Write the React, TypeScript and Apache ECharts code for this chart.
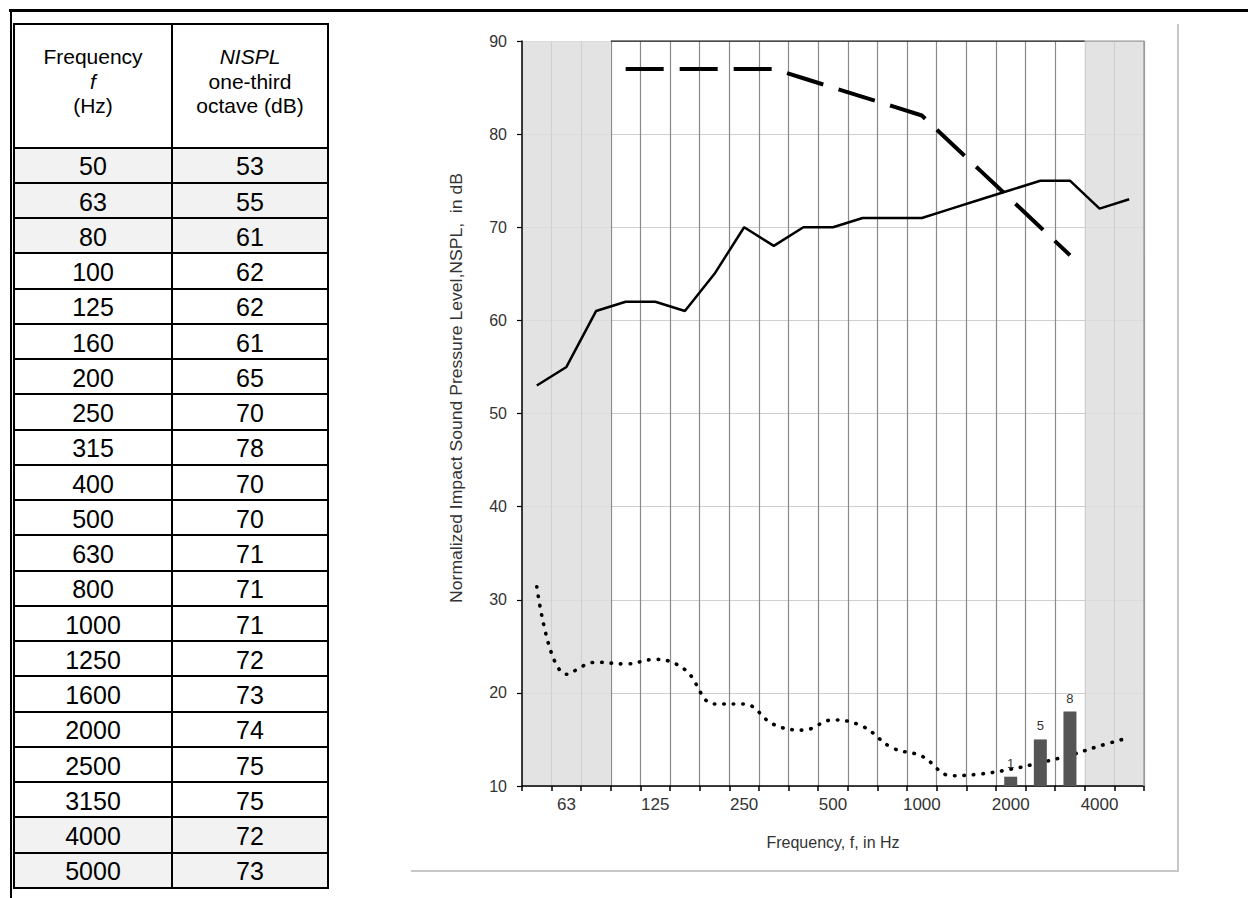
import React, { useEffect, useRef } from "react";
import * as echarts from "echarts";

// ---------- data ----------
const frequencies = ["50", "63", "80", "100", "125", "160", "200", "250", "315", "400", "500", "630", "800", "1000", "1250", "1600", "2000", "2500", "3150", "4000", "5000"];
const tableNispl = [53, 55, 61, 62, 62, 61, 65, 70, 78, 70, 70, 71, 71, 71, 72, 73, 74, 75, 75, 72, 73];
const shadedFrequencies = ["50", "63", "80", "4000", "5000"];
const measuredCurve = [53, 55, 61, 62, 62, 61, 65, 70, 68, 70, 70, 71, 71, 71, 72, 73, 74, 75, 75, 72, 73];
const shiftedReference = [null, null, null, 87, 87, 87, 87, 87, 87, 86, 85, 84, 83, 82, 79, 76, 73, 70, 67, null, null];
const dottedCurve = [31.4, 22, 23.3, 23.1, 23.6, 22.5, 18.8, 18.8, 16.6, 16.0, 17.1, 16.4, 14.1, 13.2, 11.1, 11.3, 11.8, 12.5, 13.3, 14.3, 15.2];
const deviations = [null, null, null, null, null, null, null, null, null, null, null, null, null, null, null, null, 1, 5, 8, null, null];
const xTickLabels = ["63", "125", "250", "500", "1000", "2000", "4000"];
const yMin = 10;
const yMax = 90;
const yStep = 10;
const grayBands = [[0, 3], [19, 21]];
const whiteBand = [3, 19];
const yAxisTitle = "Normalized Impact Sound Pressure Level,NSPL,  in dB";
const xAxisTitle = "Frequency, f, in Hz";
const headerLeft = ["Frequency", "f", "(Hz)"];
const headerRight = ["NISPL", "one-third", "octave (dB)"];

const FONT = "'Liberation Sans', Arial, Helvetica, sans-serif";

function Chart() {
  const ref = useRef<HTMLDivElement>(null);
  useEffect(() => {
    if (!ref.current) return;
    const chart = echarts.init(ref.current, undefined, { renderer: "svg" });
    const n = frequencies.length;
    const option: any = {
      animation: false,
      grid: { left: 111, top: 17, width: 622, height: 745, containLabel: false },
      xAxis: [
        {
          type: "category",
          data: frequencies,
          boundaryGap: true,
          position: "bottom",
          z: 3,
          axisLine: { show: true, lineStyle: { color: "#000", width: 1.5 } },
          axisTick: { show: true, interval: 0, length: 5, lineStyle: { color: "#000", width: 1.5 } },
          axisLabel: {
            interval: (_i: number, v: string) => xTickLabels.includes(v),
            margin: 10,
            fontSize: 17,
            color: "#333",
            fontFamily: FONT,
          },
          splitLine: { show: false },
          name: xAxisTitle,
          nameLocation: "middle",
          nameGap: 48,
          nameTextStyle: { fontSize: 16, color: "#333", fontFamily: FONT },
        },
        {
          type: "category",
          data: frequencies,
          boundaryGap: true,
          z: 0,
          axisLine: { show: false },
          axisTick: { show: false },
          axisLabel: { show: false },
          splitLine: { show: true, interval: 0, lineStyle: { color: "#8a8a8a", width: 1.2 } },
        },
        { type: "value", min: 0, max: n, show: false },
      ],
      yAxis: [
        {
          type: "value",
          min: yMin,
          max: yMax,
          interval: yStep,
          z: 3,
          axisLine: { show: true, lineStyle: { color: "#000", width: 1.5 } },
          axisTick: { show: true, length: 5, lineStyle: { color: "#000", width: 1.2 } },
          axisLabel: { margin: 15, fontSize: 16, color: "#333", fontFamily: FONT },
          splitLine: { show: false },
        },
        {
          type: "value",
          min: yMin,
          max: yMax,
          interval: yStep,
          z: 0,
          axisLine: { show: false },
          axisTick: { show: false },
          axisLabel: { show: false },
          splitLine: { show: true, lineStyle: { color: "#cfcfcf", width: 1.2 } },
        },
      ],
      graphic: [
        {
          type: "text",
          x: 46,
          y: 364,
          rotation: Math.PI / 2,
          scaleX: 1.1,
          silent: true,
          style: {
            text: yAxisTitle,
            fontSize: 16,
            fontFamily: FONT,
            fill: "#333",
            align: "center",
            verticalAlign: "middle",
            textAlign: "center",
            textVerticalAlign: "middle",
          },
        },
      ],
      series: [
        {
          type: "line",
          name: "frameTop",
          xAxisIndex: 2,
          yAxisIndex: 0,
          data: [[whiteBand[0], yMax], [whiteBand[1], yMax]],
          symbol: "none",
          silent: true,
          z: 3,
          lineStyle: { color: "#222", width: 1.5 },
          markArea: {
            silent: true,
            itemStyle: { color: "#dedede", opacity: 0.84 },
            data: grayBands.map((b) => [{ xAxis: b[0] }, { xAxis: b[1] }]),
          },
        },
        {
          type: "line",
          name: "frameRight",
          xAxisIndex: 2,
          yAxisIndex: 0,
          data: [[grayBands[1][0], yMax], [n, yMax], [n, yMin]],
          symbol: "none",
          silent: true,
          z: 3,
          lineStyle: { color: "#a0a0a0", width: 1.5 },
        },
        {
          type: "bar",
          name: "base",
          stack: "dev",
          barWidth: 13,
          silent: true,
          data: deviations.map((d) => (d == null ? null : yMin)),
          itemStyle: { color: "rgba(0,0,0,0)" },
          z: 4,
        },
        {
          type: "bar",
          name: "Unfavourable deviation",
          stack: "dev",
          barWidth: 13,
          data: deviations,
          itemStyle: { color: "#555555" },
          label: { show: true, position: "top", distance: 7, fontSize: 13, color: "#333", fontFamily: FONT },
          z: 7,
        },
        {
          type: "line",
          name: "Background",
          data: dottedCurve,
          smooth: 0.4,
          symbol: "none",
          z: 5,
          lineStyle: { color: "#000", width: 3.6, type: [0.5, 9], cap: "round" },
        },
        {
          type: "line",
          name: "Shifted reference",
          data: shiftedReference,
          symbol: "none",
          z: 5,
          lineStyle: { color: "#000", width: 4, type: [38, 16], cap: "butt" },
        },
        {
          type: "line",
          name: "NISPL",
          data: measuredCurve,
          symbol: "none",
          z: 6,
          lineStyle: { color: "#000", width: 2.5 },
        },
      ],
    };
    chart.setOption(option);
    return () => chart.dispose();
  }, []);
  return <div ref={ref} style={{ width: 766, height: 846 }} />;
}

function Table() {
  const cellBase: React.CSSProperties = {
    display: "flex",
    alignItems: "center",
    justifyContent: "center",
    fontFamily: FONT,
    color: "#000",
  };
  const header = (lines: string[], italicIdx: number) => (
    <div
      style={{
        ...cellBase,
        background: "#fff",
        flexDirection: "column",
        fontSize: 21,
        lineHeight: "24.5px",
        paddingBottom: 8,
        boxSizing: "border-box",
      }}
    >
      {lines.map((t, i) => (
        <div key={i} style={{ fontStyle: i === italicIdx ? "italic" : "normal", height: 24.5 }}>
          {t}
        </div>
      ))}
    </div>
  );
  return (
    <div
      style={{
        position: "absolute",
        left: 13,
        top: 23,
        width: 316,
        height: 866,
        boxSizing: "border-box",
        padding: 2,
        background: "#000",
        display: "grid",
        gridTemplateColumns: "156px 154px",
        gridTemplateRows: "121.7px repeat(21, 33.25px)",
        gap: 2,
      }}
    >
      {header(headerLeft, 1)}
      {header(headerRight, 0)}
      {frequencies.map((f, i) => {
        const bg = shadedFrequencies.includes(f) ? "#f2f2f2" : "#fff";
        const st: React.CSSProperties = { ...cellBase, background: bg, fontSize: 25, paddingTop: 3, boxSizing: "border-box" };
        return (
          <React.Fragment key={f}>
            <div style={st}>{f}</div>
            <div style={st}>{tableNispl[i]}</div>
          </React.Fragment>
        );
      })}
    </div>
  );
}

export default function App() {
  return (
    <div style={{ position: "absolute", left: 0, top: 0, width: 1248, height: 898, background: "#fff", overflow: "hidden" }}>
      <div style={{ position: "absolute", left: 9, top: 9, width: 1239, height: 3, background: "#000" }} />
      <div style={{ position: "absolute", left: 10, top: 9, width: 2, height: 889, background: "#000" }} />
      <Table />
      <div
        style={{
          position: "absolute",
          left: 411,
          top: 24,
          width: 766,
          height: 846,
          borderRight: "2px solid #c8c8c8",
          borderBottom: "2px solid #c8c8c8",
        }}
      >
        <Chart />
      </div>
    </div>
  );
}
